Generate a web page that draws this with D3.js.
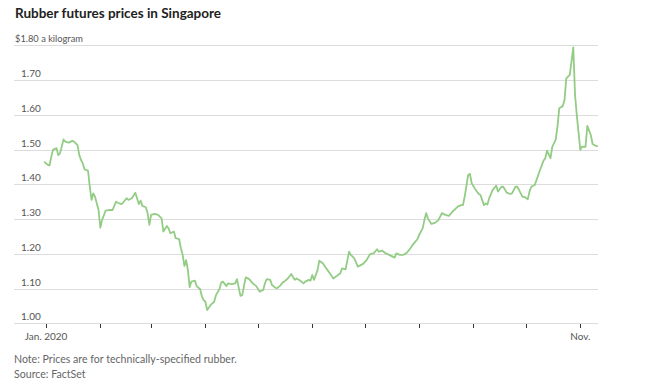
<!DOCTYPE html>
<html>
<head>
<meta charset="utf-8">
<script src="https://cdn.jsdelivr.net/npm/d3@7"></script>
<style>
  body { margin: 0; background: #fff; }
  text { font-family: Lato, "Noto Sans", sans-serif; }
</style>
</head>
<body>
<svg id="draw-here"></svg>
<script>
// price data (dollars a kilogram)
let dates = [
  "2019-12-31","2020-01-02","2020-01-03","2020-01-04","2020-01-05","2020-01-07","2020-01-08","2020-01-09",
  "2020-01-11","2020-01-12","2020-01-14","2020-01-16","2020-01-17","2020-01-19","2020-01-20","2020-01-21",
  "2020-01-22","2020-01-23","2020-01-25","2020-01-26","2020-01-27","2020-01-28","2020-01-29","2020-01-30",
  "2020-01-31","2020-02-01","2020-02-02","2020-02-04","2020-02-06","2020-02-08","2020-02-10","2020-02-11",
  "2020-02-13","2020-02-14","2020-02-16","2020-02-17","2020-02-19","2020-02-21","2020-02-23","2020-02-24",
  "2020-02-25","2020-02-27","2020-02-28","2020-02-29","2020-03-01","2020-03-03","2020-03-05","2020-03-07",
  "2020-03-08","2020-03-10","2020-03-11","2020-03-12","2020-03-14","2020-03-15","2020-03-17","2020-03-18",
  "2020-03-19","2020-03-20","2020-03-21","2020-03-22","2020-03-23","2020-03-24","2020-03-26","2020-03-27",
  "2020-03-29","2020-03-30","2020-03-31","2020-04-01","2020-04-02","2020-04-04","2020-04-06","2020-04-07",
  "2020-04-09","2020-04-10","2020-04-11","2020-04-13","2020-04-14","2020-04-16","2020-04-18","2020-04-19",
  "2020-04-21","2020-04-22","2020-04-24","2020-04-26","2020-04-28","2020-04-30","2020-05-02","2020-05-04",
  "2020-05-05","2020-05-06","2020-05-08","2020-05-09","2020-05-11","2020-05-12","2020-05-14","2020-05-15",
  "2020-05-16","2020-05-18","2020-05-20","2020-05-22","2020-05-23","2020-05-25","2020-05-27","2020-05-28",
  "2020-05-30","2020-05-31","2020-06-01","2020-06-02","2020-06-04","2020-06-05","2020-06-07","2020-06-09",
  "2020-06-11","2020-06-13","2020-06-15","2020-06-17","2020-06-18","2020-06-20","2020-06-22","2020-06-23",
  "2020-06-25","2020-06-27","2020-06-30","2020-07-02","2020-07-04","2020-07-06","2020-07-08","2020-07-09",
  "2020-07-11","2020-07-13","2020-07-14","2020-07-16","2020-07-18","2020-07-19","2020-07-21","2020-07-23",
  "2020-07-25","2020-07-27","2020-07-29","2020-07-31","2020-08-01","2020-08-03","2020-08-04","2020-08-05",
  "2020-08-06","2020-08-08","2020-08-10","2020-08-12","2020-08-14","2020-08-16","2020-08-18","2020-08-20",
  "2020-08-21","2020-08-23","2020-08-25","2020-08-26","2020-08-27","2020-08-29","2020-08-30","2020-08-31",
  "2020-09-02","2020-09-04","2020-09-05","2020-09-07","2020-09-08","2020-09-09","2020-09-10","2020-09-12",
  "2020-09-14","2020-09-15","2020-09-17","2020-09-18","2020-09-20","2020-09-22","2020-09-23","2020-09-25",
  "2020-09-26","2020-09-27","2020-09-29","2020-09-30","2020-10-02","2020-10-03","2020-10-04","2020-10-06",
  "2020-10-07","2020-10-09","2020-10-11","2020-10-12","2020-10-13","2020-10-15","2020-10-16","2020-10-18",
  "2020-10-19","2020-10-20","2020-10-22","2020-10-23","2020-10-24","2020-10-26","2020-10-28","2020-10-29",
  "2020-10-30","2020-11-01","2020-11-02","2020-11-04","2020-11-05","2020-11-07","2020-11-08","2020-11-10",
  "2020-11-11"
];
let prices = [
  1.465,1.456,1.454,1.479,1.499,1.504,1.484,1.489,
  1.529,1.523,1.520,1.525,1.523,1.513,1.484,1.470,
  1.460,1.443,1.439,1.393,1.355,1.374,1.364,1.345,
  1.326,1.275,1.297,1.324,1.326,1.326,1.350,1.347,
  1.343,1.347,1.360,1.355,1.360,1.376,1.343,1.353,
  1.338,1.334,1.317,1.283,1.312,1.315,1.312,1.302,
  1.264,1.280,1.273,1.259,1.264,1.245,1.242,1.216,
  1.197,1.165,1.182,1.153,1.104,1.120,1.123,1.107,
  1.098,1.077,1.067,1.062,1.038,1.053,1.062,1.081,
  1.098,1.117,1.120,1.107,1.115,1.113,1.115,1.127,
  1.079,1.081,1.132,1.127,1.115,1.107,1.091,1.096,
  1.115,1.127,1.125,1.110,1.102,1.101,1.110,1.117,
  1.120,1.129,1.142,1.125,1.129,1.123,1.115,1.120,
  1.125,1.123,1.139,1.125,1.153,1.180,1.173,1.158,
  1.144,1.129,1.136,1.144,1.158,1.155,1.206,1.197,
  1.187,1.163,1.171,1.182,1.199,1.201,1.213,1.206,
  1.209,1.201,1.199,1.194,1.189,1.201,1.197,1.197,
  1.203,1.216,1.230,1.242,1.254,1.273,1.297,1.317,
  1.302,1.286,1.289,1.297,1.317,1.312,1.309,1.321,
  1.326,1.336,1.340,1.340,1.364,1.427,1.430,1.403,
  1.386,1.372,1.369,1.340,1.345,1.342,1.360,1.384,
  1.396,1.379,1.393,1.393,1.376,1.372,1.374,1.393,
  1.393,1.384,1.364,1.364,1.357,1.379,1.393,1.398,
  1.412,1.441,1.468,1.475,1.497,1.475,1.508,1.529,
  1.568,1.619,1.625,1.643,1.705,1.715,1.794,1.657,
  1.599,1.499,1.508,1.508,1.568,1.542,1.516,1.510,
  1.510
];
let yTicks = [1.0, 1.1, 1.2, 1.3, 1.4, 1.5, 1.6, 1.7, 1.8];
let xTickMonths = ["2020-01-01","2020-02-01","2020-03-01","2020-04-01","2020-05-01","2020-06-01",
                   "2020-07-01","2020-08-01","2020-09-01","2020-10-01","2020-11-01"];
let xTickLabels = {"2020-01-01": "Jan. 2020", "2020-11-01": "Nov."};

let W = 654, H = 386;
let parse = d3.timeParse("%Y-%m-%d");
let data = dates.map((d, i) => ({date: parse(d), value: prices[i]}));

let svg = d3.select('#draw-here').attr('width', W).attr('height', H);

let x = d3.scaleTime()
  .domain([parse("2020-01-01"), parse("2020-11-01")])
  .range([46, 580.3]);
let y = d3.scaleLinear().domain([1.0, 1.8]).range([323.3, 45.3]);

let gridLeft = 14, gridRight = 598;

// horizontal gridlines
svg.append('g').selectAll('line')
  .data(yTicks)
  .enter().append('line')
  .attr('x1', gridLeft).attr('x2', gridRight)
  .attr('y1', d => Math.round(y(d)) + 0.5)
  .attr('y2', d => Math.round(y(d)) + 0.5)
  .attr('stroke', '#dcdcdc')
  .attr('stroke-width', 1);

// y labels, sitting on top of the gridlines
svg.append('g').selectAll('text')
  .data(yTicks)
  .enter().append('text')
  .attr('x', d => d === 1.8 ? 15 : 21)
  .attr('y', d => Math.round(y(d)) - 3)
  .attr('font-size', d => d === 1.8 ? 9.3 : 10)
  .attr('fill', '#555')
  .text(d => d === 1.8 ? "$1.80 a kilogram" : d3.format(".2f")(d));

// month ticks under the baseline
let tickDates = xTickMonths.map(parse);
svg.append('g').selectAll('line')
  .data(tickDates)
  .enter().append('line')
  .attr('x1', d => Math.round(x(d)) + 0.5)
  .attr('x2', d => Math.round(x(d)) + 0.5)
  .attr('y1', Math.round(y(1.0)) + 1)
  .attr('y2', Math.round(y(1.0)) + 5)
  .attr('stroke', '#333')
  .attr('stroke-width', 1);

svg.append('g').selectAll('text')
  .data(xTickMonths.filter(m => xTickLabels[m]))
  .enter().append('text')
  .attr('x', d => x(parse(d)))
  .attr('y', 339.5)
  .attr('text-anchor', 'middle')
  .attr('font-size', 10)
  .attr('fill', '#555')
  .text(d => xTickLabels[d]);

// the price line
let line = d3.line()
  .x(d => x(d.date))
  .y(d => y(d.value))
  .curve(d3.curveLinear);

svg.append('path')
  .datum(data)
  .attr('d', line)
  .attr('fill', 'none')
  .attr('stroke', '#93cc84')
  .attr('stroke-width', 1.8)
  .attr('stroke-linejoin', 'round');

// title and notes
svg.append('text')
  .attr('x', 15).attr('y', 18)
  .attr('font-size', 13.5)
  .attr('font-weight', 'bold')
  .attr('fill', '#222')
  .text("Rubber futures prices in Singapore");

svg.append('text')
  .attr('x', 14).attr('y', 363)
  .attr('font-size', 10.6)
  .attr('fill', '#666')
  .text("Note: Prices are for technically-specified rubber.");

svg.append('text')
  .attr('x', 14).attr('y', 378)
  .attr('font-size', 10.6)
  .attr('fill', '#666')
  .text("Source: FactSet");
</script>
</body>
</html>
